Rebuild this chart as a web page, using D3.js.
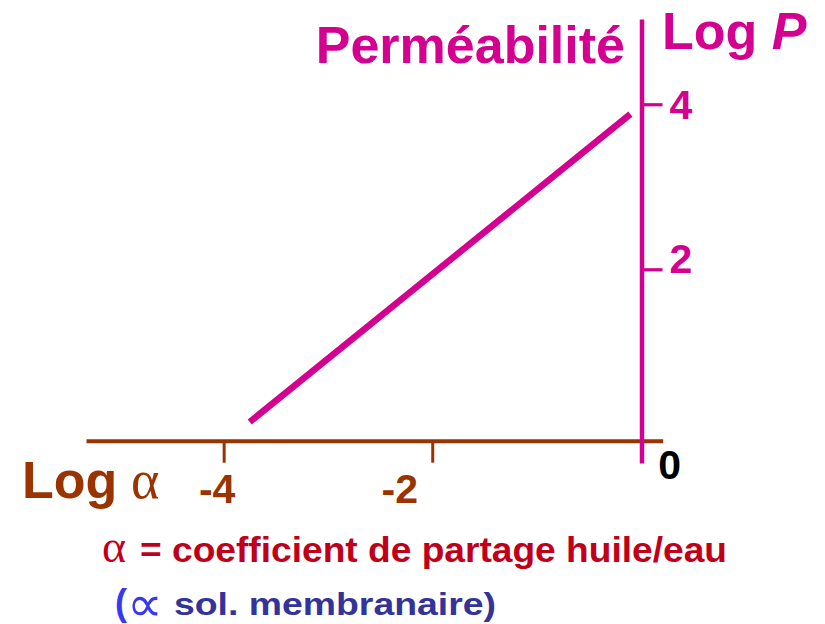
<!DOCTYPE html>
<html>
<head>
<meta charset="utf-8">
<script src="https://cdn.jsdelivr.net/npm/d3@7"></script>
<style>
  html, body { margin: 0; padding: 0; background: #fff; }
  svg { display: block; }
  text { font-family: "Liberation Sans", Arial, sans-serif; font-weight: bold; }
</style>
</head>
<body>
<svg id="chart" width="825" height="624"></svg>
<script>
// Log α (oil/water partition coefficient) vs Log P (permeability)
const logAlpha = [-3.75, -0.1];
const logP = [0.15, 3.88];
const xTickValues = [-4, -2];
const xTickLabels = ["-4", "-2"];
const yTickValues = [2, 4];
const yTickLabels = ["2", "4"];
const originLabel = "0";

const MAGENTA = "#D4008F";
const BROWN = "#993300";
const RED = "#C0001A";
const NAVY = "#333399";
const BLUE = "#3838F0";
const SERIF = "'Liberation Serif', 'Times New Roman', serif";

const svg = d3.select("#chart");

const x = d3.scaleLinear().domain([-5.32, 0.21]).range([86, 662.7]);
const y = d3.scaleLinear().domain([-0.348, 5.033]).range([463, 19]);

const xAxisY = 440.7;
const yAxisX = x(0) + 0.7;

// horizontal axis (Log α)
const gx = svg.append("g")
  .attr("transform", `translate(0,${xAxisY})`)
  .call(d3.axisBottom(x).tickValues(xTickValues).tickSize(22).tickSizeOuter(0).tickFormat(""));
gx.select(".domain").attr("stroke", BROWN).attr("stroke-width", 4);
gx.selectAll(".tick line").attr("stroke", BROWN).attr("stroke-width", 3);

// vertical axis (Log P)
const gy = svg.append("g")
  .attr("transform", `translate(${yAxisX},0)`)
  .call(d3.axisRight(y).tickValues(yTickValues).tickSize(21).tickSizeOuter(0).tickFormat(""));
gy.select(".domain").attr("stroke", MAGENTA).attr("stroke-width", 4.5);
gy.selectAll(".tick line").attr("stroke", MAGENTA).attr("stroke-width", 3.2);

// x tick labels
const xLabelShift = { "-4": -6.5, "-2": -32.5 };
svg.selectAll(".xlab")
  .data(xTickValues)
  .join("text")
  .attr("class", "xlab")
  .attr("x", d => x(d) + xLabelShift[d])
  .attr("y", 503)
  .attr("text-anchor", "middle")
  .attr("font-size", 41)
  .attr("fill", BROWN)
  .text((d, i) => xTickLabels[i]);

// y tick labels
const yLabelShift = { 2: 3.4, 4: 15 };
svg.selectAll(".ylab")
  .data(yTickValues)
  .join("text")
  .attr("class", "ylab")
  .attr("x", yAxisX + 28)
  .attr("y", d => y(d) + yLabelShift[d])
  .attr("font-size", 41)
  .attr("fill", MAGENTA)
  .text((d, i) => yTickLabels[i]);

// origin label
svg.append("text")
  .attr("x", x(0) + 17.5)
  .attr("y", 479)
  .attr("font-size", 41)
  .attr("fill", "#000")
  .text(originLabel);

// data line
const line = d3.line().x(d => x(d[0])).y(d => y(d[1]));
svg.append("path")
  .datum(logAlpha.map((a, i) => [a, logP[i]]))
  .attr("d", line)
  .attr("fill", "none")
  .attr("stroke", MAGENTA)
  .attr("stroke-width", 6.5)
  .attr("stroke-linecap", "butt");

// axis titles
svg.append("text")
  .attr("x", 625)
  .attr("y", 63)
  .attr("text-anchor", "end")
  .attr("font-size", 52)
  .attr("fill", MAGENTA)
  .text("Perméabilité");

const logPTitle = svg.append("text")
  .attr("x", 662)
  .attr("y", 49)
  .attr("font-size", 52)
  .attr("fill", MAGENTA);
logPTitle.append("tspan").text("Log ");
logPTitle.append("tspan").style("font-style", "italic").text("P");

const logATitle = svg.append("text")
  .attr("x", 22)
  .attr("y", 498)
  .attr("fill", BROWN);
logATitle.append("tspan").attr("font-size", 52).text("Log");
logATitle.append("tspan")
  .attr("x", 131)
  .style("font-family", SERIF)
  .style("font-weight", "normal")
  .attr("font-size", 54)
  .text("α");

// caption: definition of α
svg.append("text")
  .attr("x", 102)
  .attr("y", 562)
  .attr("fill", RED)
  .style("font-family", SERIF)
  .style("font-weight", "normal")
  .attr("font-size", 46)
  .text("α");
svg.append("text")
  .attr("x", 140)
  .attr("y", 562)
  .attr("fill", RED)
  .attr("font-size", 35)
  .attr("textLength", 587)
  .attr("lengthAdjust", "spacingAndGlyphs")
  .text("= coefficient de partage huile/eau");

// caption: proportionality note
svg.append("text")
  .attr("x", 115)
  .attr("y", 615)
  .attr("font-size", 36)
  .attr("fill", BLUE)
  .text("(");
svg.append("text")
  .attr("x", 127)
  .attr("y", 621)
  .style("font-family", "'DejaVu Sans', sans-serif")
  .style("font-weight", "normal")
  .attr("font-size", 50)
  .attr("fill", BLUE)
  .text("∝");
svg.append("text")
  .attr("x", 174)
  .attr("y", 615)
  .attr("font-size", 32)
  .attr("fill", NAVY)
  .attr("textLength", 322)
  .attr("lengthAdjust", "spacingAndGlyphs")
  .text("sol. membranaire)");
</script>
</body>
</html>
